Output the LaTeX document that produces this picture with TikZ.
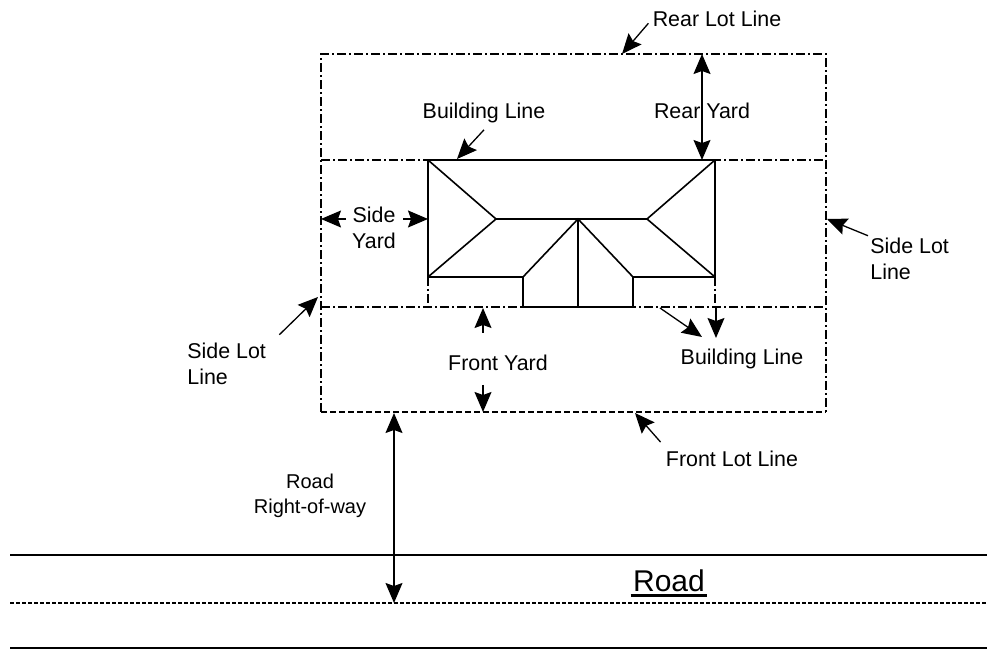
\documentclass[tikz,border=0pt]{standalone}
\usepackage{fontspec}
\setmainfont{Liberation Sans}
\usetikzlibrary{arrows.meta,positioning}

\begin{document}
\begin{tikzpicture}[x=0.5pt, y=-0.5pt,
    >={Stealth[length=10pt, width=8.5pt, inset=1.5pt]},
    lotline/.style={line width=0.8pt, dash pattern=on 4.5pt off 1.5pt on 1pt off 1.5pt},
    frontline/.style={line width=0.8pt, dash pattern=on 3pt off 1.5pt},
    house/.style={line width=0.8pt},
    pointer/.style={line width=0.65pt, ->},
    span/.style={line width=0.65pt, <->},
    tag/.style={font=\fontsize{10.7}{13}\selectfont, inner sep=1pt, align=left},
  ]
  \useasboundingbox (0,0) rectangle (987,651);
  % lot and building lines
  \coordinate (lotNW) at (321,54);  \coordinate (lotNE) at (826,54);
  \coordinate (lotSE) at (826,412); \coordinate (lotSW) at (321,412);
  \coordinate (rearW) at (321,160); \coordinate (rearE) at (826,160);
  \coordinate (frontW) at (321,307); \coordinate (frontE) at (826,307);
  \draw[lotline] (lotSW) -- (lotNW) -- (lotNE) -- (lotSE);
  \draw[frontline] (lotSW) -- (lotSE);
  \draw[lotline] (rearW) -- (rearE);
  \draw[lotline] (frontW) -- (frontE);
  % house roof plan
  \coordinate (hNW) at (428,160); \coordinate (hNE) at (715,160);
  \coordinate (hSE) at (715,277); \coordinate (hSW) at (428,277);
  \coordinate (hipW) at (496,219); \coordinate (hipE) at (647,219);
  \coordinate (ridge) at (578,219);
  \coordinate (wingNW) at (523,277); \coordinate (wingNE) at (633,277);
  \coordinate (wingSW) at (523,307); \coordinate (wingSE) at (633,307);
  \coordinate (wingS) at (578,307);
  \draw[house] (hSW) -- (hNW) -- (hNE) -- (hSE) -- (wingNE) -- (wingSE)
    -- (wingSW) -- (wingNW) -- cycle;
  \draw[house] (hNW) -- (hipW) -- (hSW);
  \draw[house] (hNE) -- (hipE) -- (hSE);
  \draw[house] (hipW) -- (hipE);
  \draw[house] (wingNW) -- (ridge) -- (wingNE);
  \draw[house] (ridge) -- (wingS);
  \draw[lotline] (hSW) -- (hSW |- frontW);
  \draw[lotline] (hSE) -- (hSE |- frontE);
  % road
  \coordinate (roadNW) at (10,555);  \coordinate (roadNE) at (987,555);
  \coordinate (roadMW) at (10,603);  \coordinate (roadME) at (987,603);
  \coordinate (roadSW) at (10,648);  \coordinate (roadSE) at (987,648);
  \draw[line width=1.2pt] (roadNW) -- (roadNE);
  \draw[line width=0.6pt, dash pattern=on 2pt off 1pt] (roadMW) -- (roadME);
  \draw[line width=0.9pt] (roadSW) -- (roadSE);
  \node[inner sep=0pt, anchor=base, font=\fontsize{15}{18}\selectfont] (road) at (669,592) {Road};
  \draw[line width=1.5pt] ([shift={(-2,4)}]road.base west) -- ([shift={(2,4)}]road.base east);

  % labels
  \node[tag, anchor=base] (rearlot) at (717,27) {Rear Lot Line};
  \node[tag, anchor=base] (rearyard) at (702,119) {Rear Yard};
  \node[tag, anchor=base] (bltop) at (484,119) {Building Line};
  \node[tag, align=center] (sideyard) at (374,228) {Side\\Yard};
  \node[tag, anchor=west] (sidelotR) at (868,259) {Side Lot\\Line};
  \node[tag, anchor=west] (sidelotL) at (185,364) {Side Lot\\Line};
  \node[tag, anchor=base] (frontyard) at (498,371) {Front Yard};
  \node[tag, anchor=base] (blbot) at (742,365) {Building Line};
  \node[tag, anchor=base] (frontlot) at (732,467) {Front Lot Line};
  \node[tag, align=center, font=\fontsize{10}{12.5}\selectfont] (row) at (310,496) {Road\\Right-of-way};

  % pointers
  \coordinate (reartip) at (622,54);
  \coordinate (bltip) at (457,159);
  \coordinate (sideRtip) at (827,219);
  \coordinate (sideLtip) at (318,297);
  \coordinate (fronttip) at (635,413);
  \coordinate (blvtail) at (716,307); \coordinate (blvtip) at (716,338);
  \coordinate (bldtail) at (660,308); \coordinate (bldtip) at (702,337);
  \draw[pointer] ([shift={(-2,4)}]rearlot.west) -- (reartip);
  \draw[pointer] ([yshift=-2pt]bltop.south) -- (bltip);
  \draw[pointer] (sidelotR.north west) -- (sideRtip);
  \draw[pointer] ([shift={(11,-6)}]sidelotL.north east) -- (sideLtip);
  \draw[pointer] ([shift={(-3,-7)}]frontlot.north west) -- (fronttip);
  \draw[pointer] (blvtail) -- (blvtip);
  \draw[pointer] (bldtail) -- (bldtip);
  % yard widths
  \coordinate (ryN) at (702,54);  \coordinate (ryS) at (702,160);
  \coordinate (syL) at (321,219); \coordinate (syLt) at (346,219);
  \coordinate (syR) at (428,219); \coordinate (syRt) at (403,219);
  \coordinate (fyN) at (483,308); \coordinate (fyNt) at (483,333);
  \coordinate (fyS) at (483,412); \coordinate (fySt) at (483,385);
  \coordinate (rowN) at (394,413); \coordinate (rowS) at (394,603);
  \draw[span] (ryN) -- (ryS);
  \draw[pointer] (syLt) -- (syL);
  \draw[pointer] (syRt) -- (syR);
  \draw[pointer] (fyNt) -- (fyN);
  \draw[pointer] (fySt) -- (fyS);
  \draw[span] (rowN) -- (rowS);
\end{tikzpicture}
\end{document}
